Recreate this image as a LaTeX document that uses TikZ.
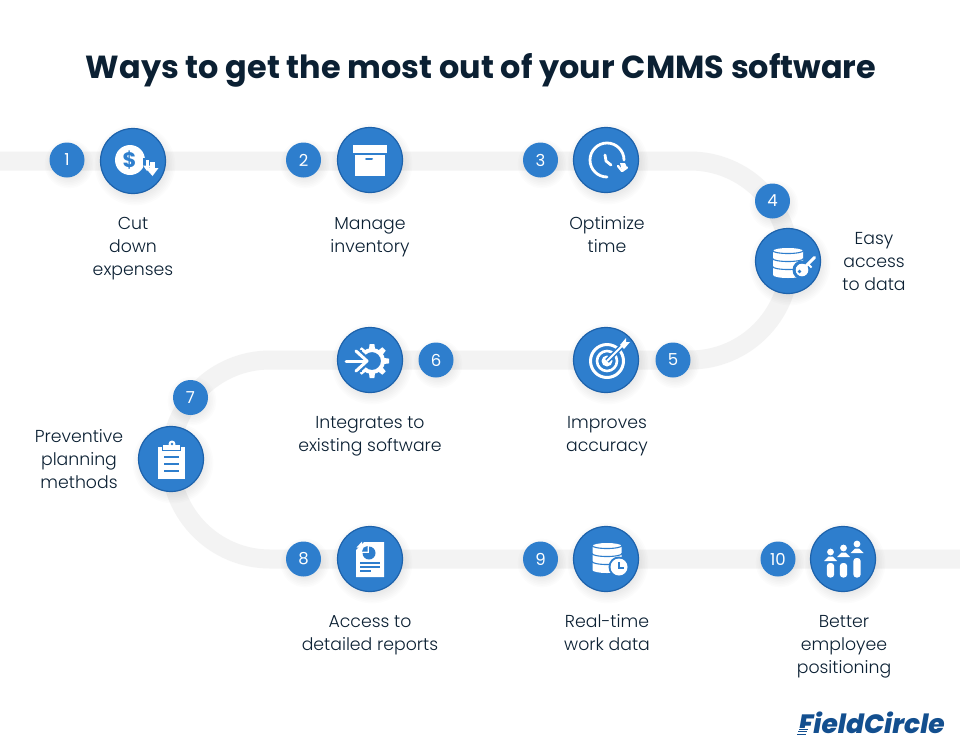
\documentclass[tikz,border=0pt]{standalone}
\usepackage{fontspec}
\setmainfont{Poppins}
\newfontfamily\poplight{Poppins Light}
\newfontfamily\logofont{Poppins ExtraBold Italic}
\usetikzlibrary{arrows.meta}
\definecolor{bluefill}{HTML}{2E7ECD}
\definecolor{blueedge}{HTML}{1D62AB}
\definecolor{trackgrey}{HTML}{F3F3F3}
\definecolor{inkdark}{HTML}{0B2033}
\definecolor{logoblue}{HTML}{134F8F}
\newcommand{\softshade}[3]{%
  \foreach \k in {1,...,7}{
    \fill[black,opacity=0.012] (#1+2,#2+4) circle ({#3+9-1.6*\k});
  }}
\tikzset{
  x=1pt,y=-1pt,
  track/.style={line width=19pt,trackgrey},
  bigdisc/.style={circle,minimum size=65pt,inner sep=0pt,fill=bluefill,draw=blueedge,line width=1.2pt},
  numdisc/.style={circle,minimum size=35pt,inner sep=0pt,fill=bluefill,text=white,font=\fontsize{16.5}{20}\selectfont},
  caption/.style={align=center,text=inkdark,font=\poplight\fontsize{17.3}{23}\selectfont,inner sep=0pt},
  white line/.style={draw=white,line width=#1,line cap=round,line join=round},
}
% database stack: centre x, top y, half width, total height (y grows downwards here)
\newcommand{\dbstack}[4]{%
  \fill[white] ({#1-#3},{#2+3}) arc[start angle=180,end angle=360,x radius=#3,y radius=3]
    -- ({#1+#3},{#2+#4-3}) arc[start angle=0,end angle=180,x radius=#3,y radius=3] -- cycle;
  \foreach \j in {0,1,2}{
    \draw[bluefill,line width=1.1pt] ({#1-#3-0.5},{#2+2.5+\j*(#4-6)/3}) arc[start angle=180,end angle=0,x radius=#3+0.5,y radius=3];
  }
}
\begin{document}
\begin{tikzpicture}
\useasboundingbox (0,0) rectangle (960,750);
\fill[white] (0,0) rectangle (960,750);

% serpentine track
\draw[track] (0,161) -- (690,161) arc[start angle=-90,end angle=90,radius=99.5]
  -- (270,360) arc[start angle=-90,end angle=-270,radius=99.5] -- (960,559);

\node[font=\bfseries\fontsize{31.9}{38}\selectfont,text=inkdark,inner sep=0pt] (title) at (481,70) {Ways to get the most out of your CMMS software};

% shadows
\softshade{133}{161}{33}\softshade{370}{160}{33}\softshade{606}{160}{33}\softshade{788}{261}{33}
\softshade{606}{360}{33}\softshade{370}{360}{33}\softshade{171}{459}{33}\softshade{370}{559}{33}
\softshade{606}{559}{33}\softshade{843}{559}{33}
\softshade{67}{160}{17}\softshade{303}{160}{17}\softshade{540}{160}{17}\softshade{772}{201}{17}
\softshade{673}{360}{17}\softshade{436}{360}{17}\softshade{190}{397}{17}\softshade{303}{559}{17}
\softshade{540}{559}{17}\softshade{778}{559}{17}

% discs
\node[bigdisc] (d1) at (133,161) {};
\node[bigdisc] (d2) at (370,160) {};
\node[bigdisc] (d3) at (606,160) {};
\node[bigdisc] (d4) at (788,261) {};
\node[bigdisc] (d5) at (606,360) {};
\node[bigdisc] (d6) at (370,360) {};
\node[bigdisc] (d7) at (171,459) {};
\node[bigdisc] (d8) at (370,559) {};
\node[bigdisc] (d9) at (606,559) {};
\node[bigdisc] (d10) at (843,559) {};

\node[numdisc] (n1) at (67,160) {1};
\node[numdisc] (n2) at (303.5,160) {2};
\node[numdisc] (n3) at (540.5,160) {3};
\node[numdisc] (n4) at (772.5,201) {4};
\node[numdisc] (n5) at (673,360) {5};
\node[numdisc] (n6) at (436,360) {6};
\node[numdisc] (n7) at (190.5,397.5) {7};
\node[numdisc] (n8) at (303.5,559) {8};
\node[numdisc] (n9) at (540.5,559) {9};
\node[numdisc] (n10) at (778,559) {10};

% captions
\node[caption] (c1) at (133,249) {Cut\\down\\expenses};
\node[caption] (c2) at (370,237) {Manage\\inventory};
\node[caption] (c3) at (607,235) {Optimize\\time};
\node[caption] (c4) at (874,262) {Easy\\access\\to data};
\node[caption] (c5) at (607,436) {Improves\\accuracy};
\node[caption] (c6) at (370,436) {Integrates to\\existing software};
\node[caption] (c7) at (79,459) {Preventive\\planning\\methods};
\node[caption] (c8) at (370,635) {Access to\\detailed reports};
\node[caption] (c9) at (607,633) {Real-time\\work data};
\node[caption] (c10) at (844,647) {Better\\employee\\positioning};

% icon 1: dollar with down arrows
\fill[white] (130,160) circle (15);
\node[text=bluefill,font=\bfseries\fontsize{21}{21}\selectfont,inner sep=0pt] (dollar) at (129.5,160) {\$};
\fill[bluefill] (143,158) -- (160,158) -- (160,178) -- (143,178) -- cycle;
\fill[white] (145.5,160) rectangle (148.5,166);
\fill[white] (143,165.5) -- (151,165.5) -- (147,171) -- cycle;
\fill[white] (150,162) rectangle (155,169);
\fill[white] (145.5,168) -- (158.5,168) -- (152.5,176) -- cycle;

% icon 2: archive box
\fill[white] (353,145) rectangle (387,153);
\fill[white] (354.5,154.5) rectangle (385,176);
\draw[bluefill,line width=2pt,line cap=round] (366,159) -- (372,159);

% icon 3: clock with arrow
\draw[white line=2.8pt] (607,177) arc[start angle=90,end angle=360,radius=17];
\draw[white line=2.8pt] (605,155) -- (606,161) -- (611,165);
\draw[white line=2.4pt] (618,166) -- (622,171) -- (627,167.5);
\fill[white] (622,171) -- (620,163) -- (625,163) -- (627,167.5) -- cycle;

% icon 4: database and key
\dbstack{788}{248}{15}{30}
\fill[bluefill] (802,270) circle (9.5);
\draw[bluefill,line width=6pt] (802,270) -- (816,256);
\draw[white,line width=3pt,line cap=round] (802,270) -- (814.5,257.5);
\draw[white,line width=2pt] (808,264) -- (811.5,267.5);
\fill[white] (802,270) circle (6.3);
\fill[bluefill] (799.5,271.5) circle (1.8);

% icon 5: target
\draw[white,line width=3pt] (607,361) circle (16.5);
\draw[white,line width=2.6pt] (607,361) circle (10);
\fill[white] (607,361) circle (5.5);
\draw[bluefill,line width=5pt] (607,361) -- (622,346);
\draw[white,line width=2pt] (607,361) -- (624,344);
\fill[white] (620,345) -- (626,338) -- (626,342) -- (630,342) -- (624,349) -- cycle;

% icon 6: gear with arrow
\draw[white,line width=4pt] (372,361) circle (11);
\foreach \a in {0,45,...,315}{
  \fill[white,shift={(372,361)},rotate=\a] (12,-3) -- (17,-2.4) -- (17,2.4) -- (12,3) -- cycle;
}
\fill[bluefill] (354,350) rectangle (362,372);
\draw[bluefill,line width=7pt] (344,361) -- (368,361);
\draw[bluefill,line width=6pt] (355,349) -- (368,361) -- (355,373);
\draw[white line=3pt] (346,361) -- (366,361);
\draw[white line=3pt] (356,351) -- (367,361) -- (356,371);

% icon 7: clipboard
\fill[white] (158,447) rectangle (185,479);
\fill[bluefill] (162,445) rectangle (181,451);
\fill[white] (163,445) rectangle (180,450);
\fill[white] (172,444) circle (3.5);
\fill[bluefill] (172,444) circle (1.3);
\draw[bluefill,line width=1.8pt] (164,457) -- (179,457) (164,464) -- (179,464) (164,471) -- (179,471);

% icon 8: document
\fill[white] (364,542) -- (384,542) -- (384,577) -- (356,577) -- (356,550) -- cycle;
\fill[white] (362,541.5) -- (362,547.5) -- (356.5,547.5) -- cycle;
\fill[bluefill] (369,553) circle (6.5);
\fill[white] (369,553) -- (369,545) -- (362,545) -- (362,553) -- cycle;
\fill[bluefill] (367.5,551.5) -- (367.5,546) arc[start angle=-90,end angle=-180,radius=5.5] -- cycle;
\draw[bluefill,line width=1.2pt] (360,563) -- (380,563) (360,567) -- (380,567) (360,571) -- (371,571);

% icon 9: database and clock
\dbstack{607}{543}{14.5}{30}
\fill[bluefill] (619,567) circle (10.5);
\fill[white] (619,567) circle (8.5);
\draw[bluefill,line width=1.5pt] (619,562) -- (619,568) -- (624,568);

% icon 10: people
\foreach \px/\hy/\top in {830.5/552/562,843.5/548/562,857/544/557}{
  \fill[white] (\px,\hy) circle (3.4);
  \fill[white] (\px-6.5,\hy+9) -- (\px-2,\hy+4.5) -- (\px+2,\hy+4.5) -- (\px+6.5,\hy+9) -- cycle;
  \fill[white,rounded corners=3pt] (\px-3.6,\top+1) rectangle (\px+3.6,577.5);
}

% logo
\node[text=logoblue,font=\logofont\fontsize{26.5}{30}\selectfont,inner sep=0pt,anchor=base east] (logo) at (945,733) {FieldCircle};
\fill[white] (795,727.5) rectangle (808,735);
\draw[logoblue,line width=0.9pt] (799,729) -- (808,729) (798,731.5) -- (807,731.5) (797,734) -- (806,734);
\end{tikzpicture}
\end{document}
